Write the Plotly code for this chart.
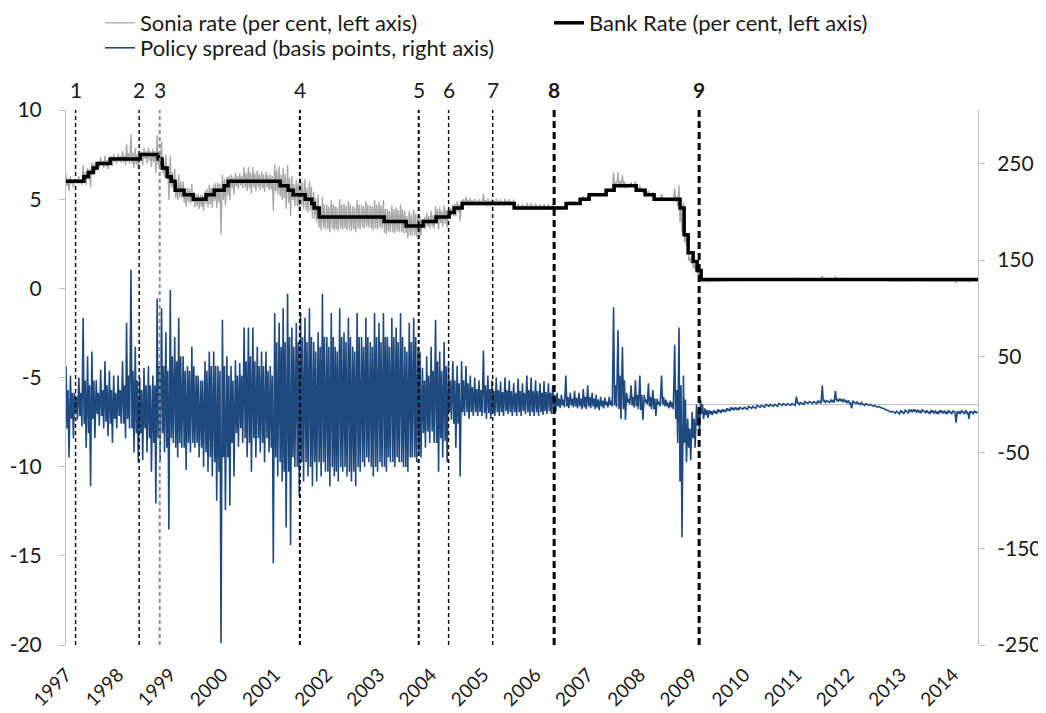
import numpy as np
import pandas as pd
import plotly.graph_objects as go

# ---------------- data ----------------
# Bank Rate change dates and levels (per cent)
bank_dates = ["1997-01-01", "1997-05-06", "1997-06-06", "1997-07-10", "1997-08-07", "1997-11-06",
              "1998-06-04", "1998-10-08", "1998-11-05", "1998-12-10", "1999-01-07", "1999-02-04",
              "1999-04-08", "1999-06-10", "1999-09-08", "1999-11-04", "2000-01-13", "2000-02-10",
              "2001-02-08", "2001-04-05", "2001-05-10", "2001-08-02", "2001-09-18", "2001-10-04",
              "2001-11-08", "2003-02-06", "2003-07-10", "2003-11-06", "2004-02-05", "2004-05-06",
              "2004-06-10", "2004-08-05", "2005-08-04", "2006-08-03", "2006-11-09", "2007-01-11",
              "2007-05-10", "2007-07-05", "2007-12-06", "2008-02-07", "2008-04-10", "2008-10-08",
              "2008-11-06", "2008-12-04", "2009-01-08", "2009-02-05", "2009-03-05", "2014-06-30"]
bank_rate = [6.00, 6.25, 6.50, 6.75, 7.00, 7.25,
             7.50, 7.25, 6.75, 6.25, 6.00, 5.50,
             5.25, 5.00, 5.25, 5.50, 5.75, 6.00,
             5.75, 5.50, 5.25, 5.00, 4.75, 4.50,
             4.00, 3.75, 3.50, 3.75, 4.00, 4.25,
             4.50, 4.75, 4.50, 4.75, 5.00, 5.25,
             5.50, 5.75, 5.50, 5.25, 5.00, 4.50,
             3.00, 2.00, 1.50, 1.00, 0.50, 0.50]

# Policy spread (basis points), monthly readings Jan 1997 - Jun 2014:
# outer high / low (spikes) and inner high / low (dense core of the band)
spread_hi = [
    40, 30, 12, 28, 90, 50, 55, 25, 36, 45, 35, 30,          # 1997
    30, 45, 85, 140, 60, 28, 38, 40, 30, 110, 100, 75,       # 1998
    119, 70, 90, 50, 40, 60, 30, 25, 45, 55, 55, 40,         # 1999
    88, 50, 40, 46, 43, 80, 80, 80, 60, 55, 55, 40,          # 2000
    95, 85, 100, 115, 80, 85, 95, 90, 100, 65, 75, 115,      # 2001
    70, 95, 60, 100, 75, 90, 60, 95, 70, 90, 65, 95,         # 2002
    85, 95, 70, 90, 80, 95, 60, 85, 90, 60, 38, 50,          # 2003
    60, 88, 55, 65, 42, 45, 40, 45, 40, 30, 28, 25,          # 2004
    56, 30, 25, 28, 24, 28, 25, 22, 27, 22, 30, 28,          # 2005
    25, 22, 24, 22, 20, 12, 10, 30, 12, 14, 12, 16,          # 2006
    20, 12, 10, 8, 7, 8, 101, 77, 60, 12, 20, 25,            # 2007
    30, 10, 22, 15, 6, 30, 5, 4, 62, 80, 30, -15,            # 2008
    -8, 0, 5, -4, -6, -6, -5, -5, -4, -3, -3, -3,            # 2009
    -3, -2, -2, -1, -1, 0, 0, 0, 1, 1, 1, 1,                 # 2010
    8, 2, 3, 3, 3, 4, 20, 4, 5, 14, 6, 5,                    # 2011
    4, 4, 3, 2, 1, 0, -1, -2, -4, -6, -7, -7,                # 2012
    -6, -6, -5, -5, -6, -5, -6, -6, -7, -6, -7, -6,          # 2013
    -7, -7, -6, -6, -7, -7,                                  # 2014
]
spread_lo = [
    -55, -35, -16, -23, -45, -85, -35, -22, -25, -33, -40, -25,
    -20, -35, -25, -50, -60, -58, -50, -70, -103, -60, -50, -130,
    -40, -55, -45, -68, -50, -45, -55, -65, -70, -75, -100, -248,
    -110, -105, -75, -44, -40, -55, -70, -55, -50, -60, -50, -165,
    -75, -80, -128, -146, -65, -95, -80, -75, -85, -80, -75, -70,
    -85, -75, -80, -70, -75, -80, -85, -70, -65, -60, -75, -70,
    -65, -70, -60, -65, -60, -65, -70, -55, -60, -55, -45, -40,
    -40, -70, -55, -60, -16, -45, -75, -12, -15, -12, -12, -12,
    -15, -15, -12, -12, -12, -10, -12, -12, -12, -10, -12, -12,
    -12, -11, -10, -10, -8, -4, -3, -4, -3, -4, -5, -5,
    -4, -5, -6, -4, -3, -2, -3, -15, -16, 0, -3, -5,
    -16, 0, -5, -12, -2, -2, -4, -5, -40, -138, -60, -58,
    -45, -30, -15, -14, -11, -10, -9, -8, -7, -6, -6, -5,
    -5, -4, -4, -3, -3, -2, -2, -2, -1, -1, -1, -1,
    0, 0, 1, 1, 1, 1, 2, 2, 2, 3, 3, 2,
    -4, 1, 0, -1, -1, -2, -3, -4, -6, -8, -9, -10,
    -10, -9, -8, -8, -9, -9, -10, -9, -10, -9, -10, -10,
    -19, -10, -10, -15, -10, -9,
]
spread_core_hi = [
    15, 12, 8, 12, 25, 20, 25, 12, 15, 20, 15, 12,
    15, 20, 30, 35, 25, 15, 20, 20, 20, 40, 40, 35,
    50, 45, 50, 35, 35, 40, 30, 25, 35, 40, 40, 35,
    40, 30, 25, 30, 30, 45, 50, 45, 40, 40, 35, 30,
    65, 60, 65, 70, 60, 65, 70, 65, 70, 55, 60, 70,
    60, 70, 55, 70, 65, 70, 55, 70, 60, 70, 60, 70,
    65, 70, 60, 70, 65, 70, 55, 65, 70, 55, 25, 30,
    35, 45, 35, 40, 25, 25, 22, 25, 22, 18, 16, 15,
    20, 16, 14, 15, 13, 15, 14, 12, 14, 12, 15, 14,
    14, 12, 13, 12, 10, 6, 5, 8, 6, 7, 6, 8,
    8, 6, 5, 4, 3, 4, 20, 30, 25, 6, 8, 10,
    10, 5, 8, 6, 3, 8, 2, 2, 15, 20, 5, -25,
    -15, -8, 0, -6, -7, -7, -6, -6, -5, -4, -4, -4,
    -4, -3, -3, -2, -2, -1, -1, -1, 0, 0, 0, 0,
    2, 1, 2, 2, 2, 3, 4, 3, 4, 5, 5, 4,
    2, 2, 1, 0, 0, -1, -2, -3, -5, -7, -8, -8,
    -8, -7, -6, -6, -7, -7, -8, -7, -8, -7, -8, -8,
    -8, -8, -8, -8, -8, -8,
]
spread_core_lo = [
    -25, -15, -8, -12, -20, -30, -15, -10, -12, -18, -20, -15,
    -12, -20, -15, -25, -30, -30, -25, -35, -40, -35, -30, -45,
    -35, -45, -40, -45, -40, -40, -40, -45, -50, -55, -60, -70,
    -55, -55, -40, -30, -25, -35, -40, -35, -35, -40, -35, -45,
    -55, -60, -70, -70, -55, -65, -60, -60, -65, -60, -60, -60,
    -70, -65, -70, -65, -65, -70, -70, -65, -60, -55, -65, -65,
    -60, -65, -55, -60, -55, -60, -65, -55, -55, -50, -30, -28,
    -28, -40, -35, -38, -8, -20, -20, -8, -8, -8, -8, -8,
    -9, -9, -8, -8, -8, -7, -8, -8, -8, -7, -8, -8,
    -8, -8, -7, -7, -5, -2, -1, -2, -1, -2, -2, -3,
    -2, -2, -3, -2, -1, -1, -1, -5, -5, 2, -1, -2,
    -6, 2, -2, -5, 0, 0, -2, -3, -15, -80, -40, -45,
    -35, -22, -10, -11, -10, -9, -8, -7, -6, -5, -5, -4,
    -4, -3, -3, -2, -2, -1, -1, -1, 0, 0, 0, 0,
    1, 1, 2, 2, 2, 2, 3, 3, 3, 4, 4, 3,
    1, 2, 1, 0, 0, -1, -2, -3, -5, -7, -8, -8,
    -8, -7, -7, -7, -8, -7, -8, -8, -9, -8, -9, -8,
    -8, -9, -8, -9, -8, -8,
]

# Event markers
event_labels = ["1", "2", "3", "4", "5", "6", "7", "8", "9"]
event_dates = ["1997-03-09", "1998-05-28", "1998-10-19", "2001-06-26", "2003-10-06",
               "2004-05-02", "2005-03-07", "2006-05-11", "2009-02-19"]

year_labels = [str(y) for y in range(1997, 2015)]
left_ticks = [-20, -15, -10, -5, 0, 5, 10]
right_ticks = [-250, -150, -50, 50, 150, 250]

# ---------------- build series ----------------
months = pd.date_range("1997-01-01", periods=len(spread_hi), freq="MS")
spread_dates, spread_vals = [], []
for m, h, cl, ch, l in zip(months, spread_hi, spread_core_lo, spread_core_hi, spread_lo):
    for k, v in enumerate((h, cl, ch, l)):
        spread_dates.append(m + pd.Timedelta(days=7 * k))
        spread_vals.append(v)
spread_dates = pd.DatetimeIndex(spread_dates)

bd = pd.to_datetime(bank_dates)
idx = np.searchsorted(bd.values, spread_dates.values, side="right") - 1
bank_at = np.array(bank_rate)[idx]
sonia = bank_at + np.array(spread_vals) / 100.0

FONT = "Lato"
TXT = "#1a1a1a"
AX = "#bfbfbf"

fig = go.Figure()
fig.add_trace(go.Scatter(x=spread_dates, y=sonia, mode="lines",
                         name="Sonia rate (per cent, left axis)", legend="legend",
                         line=dict(color="#a6a6a6", width=1.3)))
fig.add_trace(go.Scatter(x=bd, y=bank_rate, mode="lines", line_shape="hv",
                         name="Bank Rate (per cent, left axis)", legend="legend",
                         line=dict(color="#000000", width=3.5)))
fig.add_trace(go.Scatter(x=spread_dates, y=spread_vals, mode="lines", yaxis="y2",
                         name="Policy spread (basis points, right axis)", legend="legend2",
                         line=dict(color="#1f4a80", width=1.6)))

styles = {
    "1": ("#000000", 1.4, "4px,3px"), "2": ("#000000", 1.4, "4px,3px"),
    "3": ("#8c8c8c", 2.0, "4px,3px"), "4": ("#000000", 2.0, "4px,3px"),
    "5": ("#000000", 2.0, "4px,3px"), "6": ("#000000", 1.4, "4px,3px"),
    "7": ("#000000", 1.4, "4px,3px"), "8": ("#000000", 3.0, "7px,4px"),
    "9": ("#000000", 3.0, "7px,4px"),
}
for lab, d in zip(event_labels, event_dates):
    c, w, dash = styles[lab]
    fig.add_shape(type="line", xref="x", yref="paper", x0=d, x1=d, y0=0, y1=1,
                  line=dict(color=c, width=w, dash=dash), layer="above")
    bold = lab in ("8", "9")
    fig.add_annotation(x=d, y=1, xref="x", yref="paper", yanchor="bottom",
                       text=f"<b>{lab}</b>" if bold else lab, showarrow=False,
                       yshift=6, font=dict(family=FONT, size=21, color=TXT))

# The page body adds an 8 px offset, so the figure is 8 px smaller and margins shifted.
W, H = 1038, 705
ML, MR, MT, MB = 58, 68, 102, 68
plot_h = H - MT - MB

legend_common = dict(orientation="h", xref="container", yref="paper", xanchor="left",
                     yanchor="top", entrywidth=404, entrywidthmode="pixels",
                     font=dict(family=FONT, size=22, color=TXT),
                     bgcolor="rgba(0,0,0,0)", borderwidth=0, itemwidth=30)

fig.update_layout(
    width=W, height=H,
    margin=dict(l=ML, r=MR, t=MT, b=MB, autoexpand=False),
    paper_bgcolor="white", plot_bgcolor="white",
    font=dict(family=FONT, size=21, color=TXT),
    showlegend=True,
    legend=dict(legend_common, x=92 / W, y=1 + (MT + 6) / plot_h),
    legend2=dict(legend_common, x=92 / W, y=1 + (MT - 19) / plot_h),
    xaxis=dict(type="date", range=["1997-01-01", "2014-06-25"],
               tickvals=[f"{y}-01-01" for y in year_labels], ticktext=year_labels,
               tickangle=-45, showgrid=False, zeroline=False, showline=False, ticks="",
               ticklabelstandoff=14,
               tickfont=dict(family=FONT, size=19, color=TXT)),
    yaxis=dict(range=[-20, 10], tickvals=left_ticks, ticktext=[str(t) for t in left_ticks],
               showgrid=False, zeroline=False,
               showline=True, linecolor=AX, linewidth=1, ticks="outside",
               ticklen=6, tickcolor=AX, ticklabelstandoff=13,
               tickfont=dict(family=FONT, size=21, color=TXT)),
    yaxis2=dict(range=[-250, 306], overlaying="y", side="right",
                tickvals=right_ticks, ticktext=[str(t) for t in right_ticks], showgrid=False,
                zeroline=True, zerolinecolor=AX, zerolinewidth=1,
                showline=True, linecolor=AX, linewidth=1, ticks="outside",
                ticklen=6, tickcolor=AX, ticklabelstandoff=8,
                tickfont=dict(family=FONT, size=21, color=TXT)),
)

fig.write_html("out.html")
